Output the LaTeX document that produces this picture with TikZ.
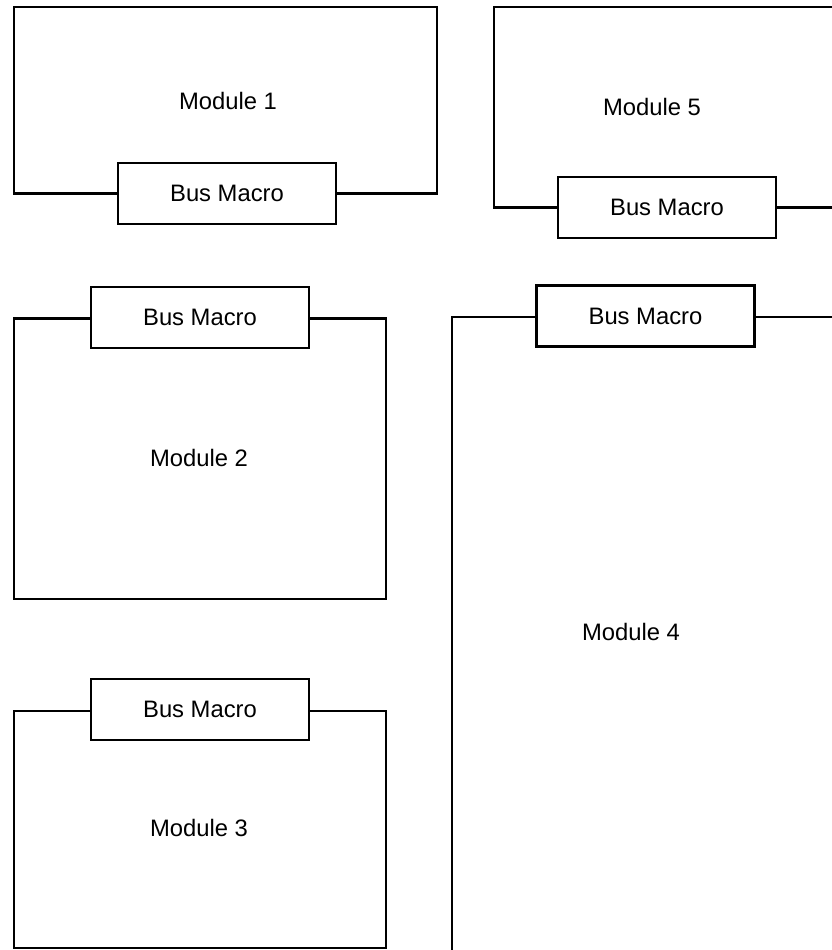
\documentclass[tikz,border=0pt]{standalone}
\usepackage{fontspec}
\setmainfont{Liberation Sans}
\begin{document}
\begin{tikzpicture}[x=1pt,y=-1pt,
  outline/.style={line width=2.8pt,line join=miter},
  busbox/.style={draw,line width=2.8pt,fill=white,minimum width=218pt,minimum height=61pt,inner sep=0pt,font=\fontsize{23.8}{28}\selectfont},
  label/.style={font=\fontsize{23.8}{28}\selectfont,inner sep=0pt}]
\useasboundingbox (0,0) rectangle (832,950);

% Module 1: bus macro on the lower edge
\node[busbox] (bm1) at (227,193.5) {Bus Macro};
\coordinate (m1a) at (14,193.5);
\coordinate (m1b) at (14,7);
\coordinate (m1c) at (437,7);
\coordinate (m1d) at (437,193.5);
\draw[outline] (bm1.west) -- (m1a) -- (m1b) -- (m1c) -- (m1d) -- (bm1.east);
\node[label] (mod1) at (228,101) {Module 1};

% Module 5: runs past the right border
\node[busbox] (bm5) at (667,207.5) {Bus Macro};
\coordinate (m5a) at (494,207.5);
\coordinate (m5b) at (494,7);
\coordinate (m5c) at (840,7);
\coordinate (m5d) at (840,207.5);
\draw[outline] (bm5.west) -- (m5a) -- (m5b) -- (m5c);
\draw[outline] (bm5.east) -- (m5d);
\node[label] (mod5) at (652,107) {Module 5};

% Module 2: bus macro on the upper edge
\node[busbox] (bm2) at (200,317.5) {Bus Macro};
\coordinate (m2a) at (14,318.5);
\coordinate (m2b) at (14,599);
\coordinate (m2c) at (386,599);
\coordinate (m2d) at (386,318.5);
\draw[outline] (bm2.west |- m2a) -- (m2a) -- (m2b) -- (m2c) -- (m2d) -- (bm2.east |- m2d);
\node[label] (mod2) at (199,458) {Module 2};

% Module 4: tall block, open to the right and bottom
\node[busbox] (bm4) at (645.5,316) {Bus Macro};
\coordinate (m4a) at (452,317);
\coordinate (m4b) at (452,960);
\coordinate (m4c) at (840,317);
\draw[outline] (bm4.west |- m4a) -- (m4a) -- (m4b);
\draw[outline] (bm4.east |- m4c) -- (m4c);
\node[label] (mod4) at (631,632) {Module 4};

% Module 3: bus macro on the upper edge
\node[busbox] (bm3) at (200,709.5) {Bus Macro};
\coordinate (m3a) at (14,711);
\coordinate (m3b) at (14,948);
\coordinate (m3c) at (386,948);
\coordinate (m3d) at (386,711);
\draw[outline] (bm3.west |- m3a) -- (m3a) -- (m3b) -- (m3c) -- (m3d) -- (bm3.east |- m3d);
\node[label] (mod3) at (199,828) {Module 3};
\end{tikzpicture}
\end{document}
